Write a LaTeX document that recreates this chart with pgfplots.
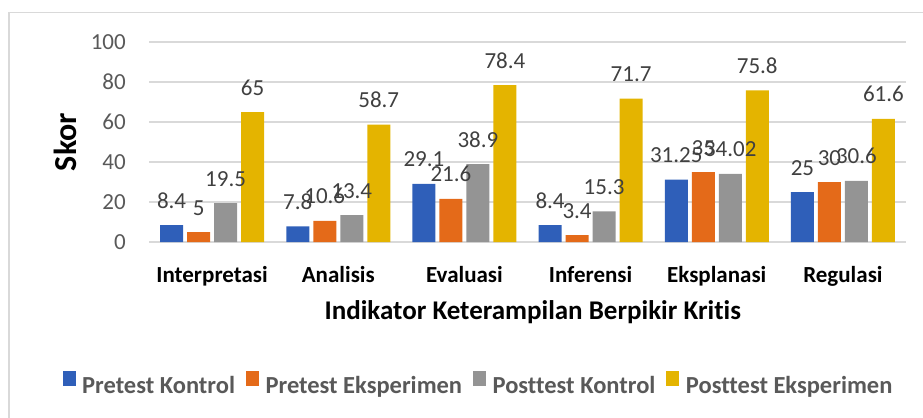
\documentclass[border=0pt]{standalone}
\usepackage{fontspec}
\setmainfont{Carlito}[Ligatures={NoCommon}]
\usepackage{pgfplots}
\pgfplotsset{compat=1.18}
\definecolor{cBlue}{RGB}{47,95,185}
\definecolor{cOrange}{RGB}{228,106,25}
\definecolor{cGray}{RGB}{148,148,148}
\definecolor{cGold}{RGB}{228,180,0}
\definecolor{cGrid}{RGB}{217,217,217}
\definecolor{cTick}{RGB}{89,89,89}
\definecolor{cLab}{RGB}{64,64,64}
\newcommand\fa{\fontsize{23bp}{27bp}\selectfont}
\begin{document}
\begin{tikzpicture}[x=1bp,y=1bp]
\useasboundingbox (0,0) rectangle (923,417);
\draw[cGrid, line width=1.5bp] (9,-10) -- (9,404.3) -- (935,404.3);
\begin{axis}[
  at={(149bp,175bp)}, anchor=south west,
  scale only axis, width=757bp, height=200bp,
  ymin=0, ymax=100, xmin=-0.5, xmax=5.5,
  enlargelimits=false,
  ytick={0,20,...,100},
  xtick={0,...,5},
  xticklabels={Interpretasi,Analisis,Evaluasi,Inferensi,Eksplanasi,Regulasi},
  major tick length=0pt,
  axis lines*=left,
  y axis line style={draw=none},
  x axis line style={color=cGrid, line width=1.5bp},
  ymajorgrids,
  major grid style={color=cGrid, line width=1.3bp},
  /pgf/number format/assume math mode=true,
  yticklabel style={font=\fa, text=cTick, anchor=east, inner sep=0pt, xshift=-23bp},
  xticklabel style={font=\fa\bfseries, text=black, anchor=base, inner sep=0pt, yshift=-40bp},
  xlabel={Indikator Keterampilan Berpikir Kritis},
  xlabel style={font=\fontsize{27bp}{31bp}\selectfont\bfseries, at={(axis description cs:0.507,-0.385)}, anchor=base, inner sep=0pt},
  ylabel={Skor},
  ylabel style={font=\fontsize{32bp}{36bp}\selectfont\bfseries, at={(axis description cs:-0.0964,0.5)}, anchor=base, inner sep=0pt},
  ybar=4bp, bar width=23bp,
  point meta=explicit symbolic,
  nodes near coords,
  every node near coord/.append style={font=\fa, text=cLab, anchor=base, inner sep=0pt, yshift=17bp},
  legend columns=4,
  legend style={at={(axis description cs:0.434,-0.705)}, anchor=center, draw=none, fill=none,
    font=\fontsize{24.5bp}{28bp}\selectfont\bfseries, text=cTick, inner sep=0pt, column sep=0pt,
    nodes={inner sep=0pt},
    /tikz/every even column/.append style={column sep=11bp}},
  legend cell align=left,
  legend image code/.code={\fill[#1,draw=none] (0bp,0bp) rectangle (13bp,15bp); \path (19.5bp,0bp);},
]
\addplot[fill=cBlue, draw=none] coordinates {(0,8.4)[8.4] (1,7.8)[7.8] (2,29.1)[29.1] (3,8.4)[8.4] (4,31.25)[31.25] (5,25)[25]};
\addplot[fill=cOrange, draw=none] coordinates {(0,5)[5] (1,10.6)[10.6] (2,21.6)[21.6] (3,3.4)[3.4] (4,35)[35] (5,30)[30]};
\addplot[fill=cGray, draw=none] coordinates {(0,19.5)[19.5] (1,13.4)[13.4] (2,38.9)[38.9] (3,15.3)[15.3] (4,34.02)[34.02] (5,30.6)[30.6]};
\addplot[fill=cGold, draw=none] coordinates {(0,65)[65] (1,58.7)[58.7] (2,78.4)[78.4] (3,71.7)[71.7] (4,75.8)[75.8] (5,61.6)[61.6]};
\legend{Pretest Kontrol,Pretest Eksperimen,Posttest Kontrol,Posttest Eksperimen}
\end{axis}
\end{tikzpicture}
\end{document}
